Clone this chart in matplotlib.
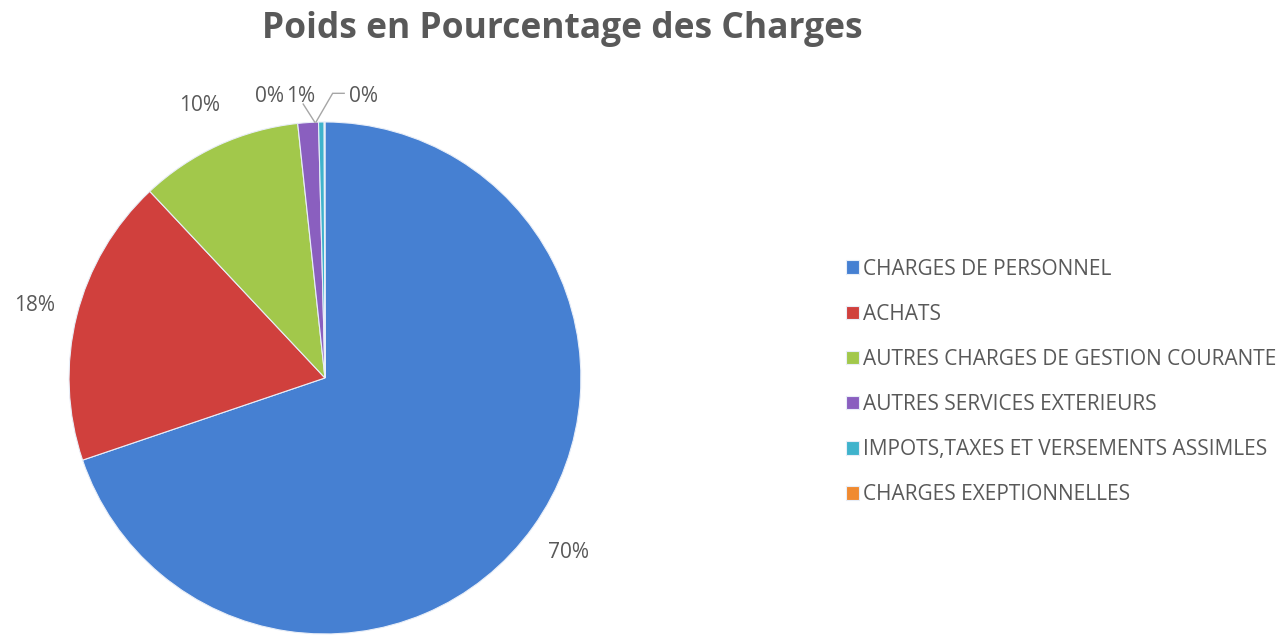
import numpy as np
import matplotlib
matplotlib.use("Agg")
import matplotlib.pyplot as plt

# donnees (en %)
categories = ["CHARGES DE PERSONNEL", "ACHATS", "AUTRES CHARGES DE GESTION COURANTE",
              "AUTRES SERVICES EXTERIEURS", "IMPOTS,TAXES ET VERSEMENTS ASSIMLES",
              "CHARGES EXEPTIONNELLES"]
poids = [69.8, 18.2, 10.3, 1.3, 0.35, 0.05]
couleurs = ["#4680d2", "#d0403d", "#a2c84b", "#8a5fbf", "#3fb3cc", "#f08a30"]

gris = "#595959"
plt.rcParams['font.family'] = ['Open Sans', 'DejaVu Sans']

fig = plt.figure(figsize=(12.86, 6.36), dpi=100)
ax = fig.add_axes([0.0537, 0.0032, 0.398, 0.805])

wedges, _ = ax.pie(poids, colors=couleurs, startangle=90, counterclock=False,
                   radius=1.0, wedgeprops=dict(edgecolor="#e8eef8", linewidth=0.8))
ax.set_xlim(-1, 1)
ax.set_ylim(-1, 1)
ax.set_aspect("auto")

total = sum(poids)
# positions des petites etiquettes (en haut du camembert)
petites = {3: (-0.095, 1.10), 4: (0.15, 1.10), 5: (-0.215, 1.10)}
for i, w in enumerate(wedges):
    txt = "%d%%" % round(poids[i] / total * 100)
    ang = np.deg2rad((w.theta1 + w.theta2) / 2)
    if i in petites:
        xt, yt = petites[i]
        ax.text(xt, yt, txt, ha="center", va="center", fontsize=15, color=gris,
                clip_on=False)
    else:
        r = 1.17
        ax.text(r * np.cos(ang), r * np.sin(ang), txt, ha="center", va="center",
                fontsize=15, color=gris)

# traits de rappel des petites etiquettes
bord = np.deg2rad(wedges[4].theta2)
xb, yb = np.cos(bord) - 0.01, np.sin(bord)
x4, y4 = petites[4]
ax.plot([x4 - 0.075, x4 - 0.12, xb], [y4 + 0.012, y4 + 0.012, yb], color="#a6a6a6",
        lw=1, clip_on=False, solid_joinstyle="miter")
x3, y3 = petites[3]
ax.plot([x3 + 0.01, xb - 0.005], [y3 - 0.03, yb], color="#a6a6a6", lw=1, clip_on=False)

fig.text(0.437, 0.955, "Poids en Pourcentage des Charges", ha="center", va="center",
         fontsize=25.5, fontweight="bold", color=gris)

leg = fig.legend(wedges, categories, loc="center left", bbox_to_anchor=(0.643, 0.3995),
                 frameon=False, fontsize=15, labelspacing=1.16, handlelength=0.62,
                 handleheight=0.62, handletextpad=0.2, labelcolor=gris)

fig.savefig("out.png", dpi=100)
